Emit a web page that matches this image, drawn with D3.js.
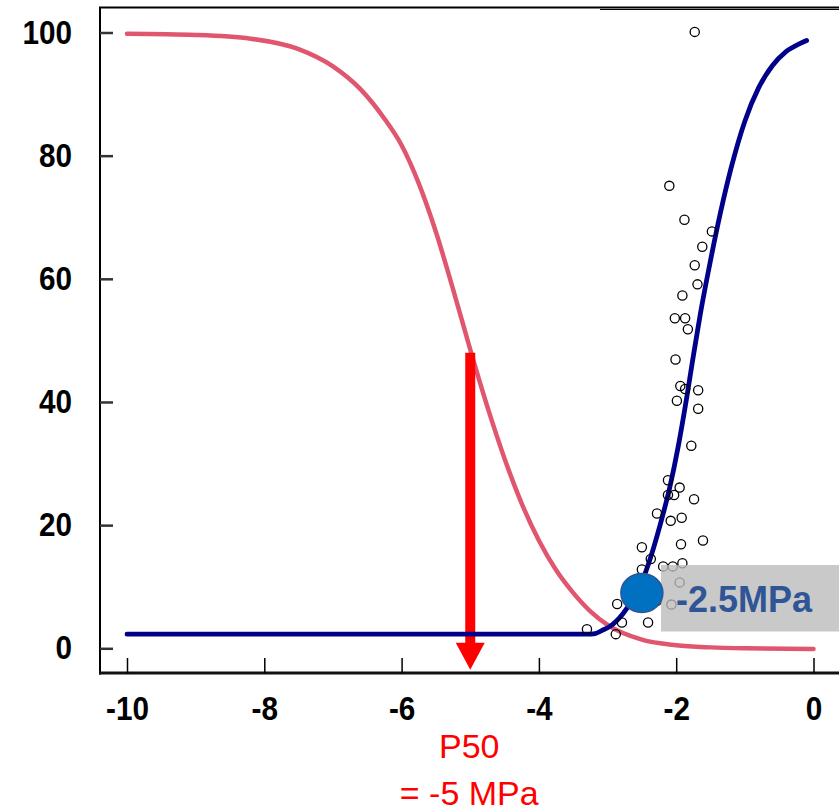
<!DOCTYPE html>
<html>
<head>
<meta charset="utf-8">
<script src="https://cdn.jsdelivr.net/npm/d3@7/dist/d3.min.js"></script>
<style>
  html, body { margin: 0; padding: 0; background: #ffffff; }
  svg { display: block; }
</style>
</head>
<body>
<svg id="chart" width="839" height="811"></svg>
<script>
// Axis ticks
const xTicks = [-10, -8, -6, -4, -2, 0];
const yTicks = [0, 20, 40, 60, 80, 100];

// Vulnerability curve (percent of conductivity remaining vs. water potential, MPa)
const conductivityCurve = [
  [-10, 99.8], [-9, 99.6], [-8.2, 99.0], [-7.5, 97.3], [-7.0, 94.5],
  [-6.6, 90.8], [-6.25, 86.0], [-6.0, 81.7], [-5.75, 75.5], [-5.5, 67.6],
  [-5.25, 58.3], [-5.0, 48.5], [-4.75, 39.2], [-4.5, 30.8], [-4.25, 23.5],
  [-4.0, 17.5], [-3.75, 12.7], [-3.5, 9.0], [-3.25, 6.0], [-3.0, 3.8],
  [-2.5, 1.4], [-2.0, 0.5], [-1.5, 0.15], [-1.0, 0.0], [0, -0.1]
];

// Fitted response curve (navy)
const responseCurve = [
  [-10, 2.3], [-3.3, 2.3], [-3.18, 2.4], [-3.08, 2.9], [-2.96, 3.6],
  [-2.77, 5.7], [-2.62, 8.2], [-2.50, 10.8], [-2.38, 14.5], [-2.24, 19.8],
  [-2.09, 26.3], [-1.97, 32.8], [-1.85, 40.5], [-1.75, 47.5], [-1.65, 54.2],
  [-1.5, 63.0], [-1.35, 71.0], [-1.2, 78.0], [-1.0, 85.6], [-0.8, 91.0],
  [-0.6, 94.6], [-0.4, 96.9], [-0.2, 98.2], [-0.1, 98.7]
];

// Observations
const obsX = [
  -1.73, -2.10, -1.88, -1.48, -1.62, -1.73, -1.69, -1.91, -2.02, -1.87,
  -1.83, -2.01, -1.94, -1.87, -1.68, -1.99, -1.68, -1.78, -2.12, -1.95,
  -2.12, -2.03, -1.74, -2.28, -2.08, -1.92, -1.61, -2.50, -1.93, -2.37,
  -2.19, -2.05, -1.91, -2.50, -1.95, -2.86, -2.28, -2.07, -2.41, -2.79,
  -3.30, -2.88
];
const obsY = [
  100.1, 75.1, 69.6, 67.7, 65.2, 62.2, 59.1, 57.3, 53.6, 53.6,
  51.8, 46.9, 42.6, 42.1, 41.9, 40.2, 38.9, 32.9, 27.3, 26.1,
  24.9, 24.9, 24.2, 21.9, 20.7, 21.2, 17.5, 16.4, 16.9, 14.5,
  13.3, 13.3, 13.8, 12.8, 10.7, 7.2, 7.7, 7.1, 4.2, 4.2,
  3.1, 2.3
];

// Annotations
const p50 = -5;
const p50ArrowTop = 48;
const p50ArrowTip = -3.5;
const markerX = -2.5;
const markerY = 9;
const markerLabel = "-2.5MPa";
const p50Lines = ["P50", "= -5 MPa"];

const svg = d3.select("#chart");

const x = d3.scaleLinear().domain([-10, 0]).range([127, 813.5]);
const y = d3.scaleLinear().domain([0, 100]).range([648.3, 32.5]);

const axisLeftX = 100;
const axisBottomY = 673;
const tickFont = "'Liberation Sans', Arial, sans-serif";
const squeeze = 0.9;

// Frame
svg.append("line")
  .attr("x1", axisLeftX).attr("x2", axisLeftX)
  .attr("y1", 7).attr("y2", axisBottomY + 1.5)
  .attr("stroke", "#000").attr("stroke-width", 2);
svg.append("line")
  .attr("x1", axisLeftX - 1).attr("x2", 839)
  .attr("y1", 7.5).attr("y2", 7.5)
  .attr("stroke", "#000").attr("stroke-width", 2);
svg.append("line")
  .attr("x1", 600).attr("x2", 839)
  .attr("y1", 9.5).attr("y2", 9.5)
  .attr("stroke", "#000").attr("stroke-width", 1);
svg.append("line")
  .attr("x1", axisLeftX - 1).attr("x2", 839)
  .attr("y1", axisBottomY).attr("y2", axisBottomY)
  .attr("stroke", "#111").attr("stroke-width", 3);

// Y axis (ticks pointing inward)
const gy = svg.append("g")
  .attr("transform", `translate(${axisLeftX},0)`)
  .call(d3.axisLeft(y).tickValues(yTicks).tickSize(-13).tickPadding(28)
    .tickFormat(d => String(d)));
gy.select(".domain").remove();
gy.selectAll(".tick line").attr("stroke", "#333").attr("stroke-width", 2.5);
gy.selectAll(".tick text")
  .attr("x", -28 / squeeze)
  .attr("transform", `scale(${squeeze},1)`)
  .attr("font-family", tickFont)
  .attr("font-size", 33).attr("font-weight", "bold").attr("fill", "#000");

// X axis (ticks pointing inward)
const gx = svg.append("g")
  .attr("transform", `translate(0,${axisBottomY})`)
  .call(d3.axisBottom(x).tickValues(xTicks).tickSize(-15).tickPadding(24)
    .tickFormat(d => String(d)));
gx.select(".domain").remove();
gx.selectAll(".tick line").attr("stroke", "#000").attr("stroke-width", 1.5);
gx.selectAll(".tick text")
  .attr("transform", `scale(${squeeze},1)`)
  .attr("font-family", tickFont)
  .attr("font-size", 33).attr("font-weight", "bold").attr("fill", "#000");

const line = d3.line()
  .x(d => x(d[0]))
  .y(d => y(d[1]))
  .curve(d3.curveMonotoneX);

// Conductivity curve
svg.append("path")
  .datum(conductivityCurve)
  .attr("d", line)
  .attr("fill", "none")
  .attr("stroke", "#e0566f")
  .attr("stroke-width", 4.5)
  .attr("stroke-linecap", "round");

// P50 arrow
{
  const ax = x(p50);
  const top = y(p50ArrowTop);
  const tip = y(p50ArrowTip);
  const shaftHalf = 5, headHalf = 14.5, headLen = 27;
  const base = tip - headLen;
  const pts = [
    [ax - shaftHalf, top], [ax + shaftHalf, top], [ax + shaftHalf, base],
    [ax + headHalf, base], [ax, tip], [ax - headHalf, base], [ax - shaftHalf, base]
  ];
  svg.append("path")
    .attr("d", "M" + pts.map(p => p.join(",")).join("L") + "Z")
    .attr("fill", "#ff0000");
}

// Response curve
svg.append("path")
  .datum(responseCurve)
  .attr("d", line)
  .attr("fill", "none")
  .attr("stroke", "#00008b")
  .attr("stroke-width", 4.8)
  .attr("stroke-linecap", "round")
  .attr("stroke-linejoin", "round");

// Observations
svg.append("g")
  .selectAll("circle")
  .data(obsX.map((v, i) => [v, obsY[i]]))
  .join("circle")
  .attr("cx", d => x(d[0]))
  .attr("cy", d => y(d[1]))
  .attr("r", 4.6)
  .attr("fill", "none")
  .attr("stroke", "#000")
  .attr("stroke-width", 1.3);

// Label box
svg.append("rect")
  .attr("x", 661).attr("y", 565)
  .attr("width", 178).attr("height", 66.5)
  .attr("fill", "#bcbcbc")
  .attr("fill-opacity", 0.8);

// Marker dot
svg.append("ellipse")
  .attr("cx", x(markerX)).attr("cy", y(markerY))
  .attr("rx", 21).attr("ry", 19.5)
  .attr("fill", "#0070c0")
  .attr("stroke", "#2f5597")
  .attr("stroke-width", 1.5);

svg.append("text")
  .attr("x", 676).attr("y", 612)
  .attr("font-family", tickFont)
  .attr("font-size", 36).attr("font-weight", "bold")
  .attr("fill", "#2f5597")
  .text(markerLabel);

// P50 annotation
svg.append("g")
  .selectAll("text")
  .data(p50Lines)
  .join("text")
  .attr("x", x(p50) - 1)
  .attr("y", (d, i) => 758 + i * 47)
  .attr("text-anchor", "middle")
  .attr("font-family", tickFont)
  .attr("font-size", 34)
  .attr("fill", "#ff0000")
  .text(d => d);
</script>
</body>
</html>
